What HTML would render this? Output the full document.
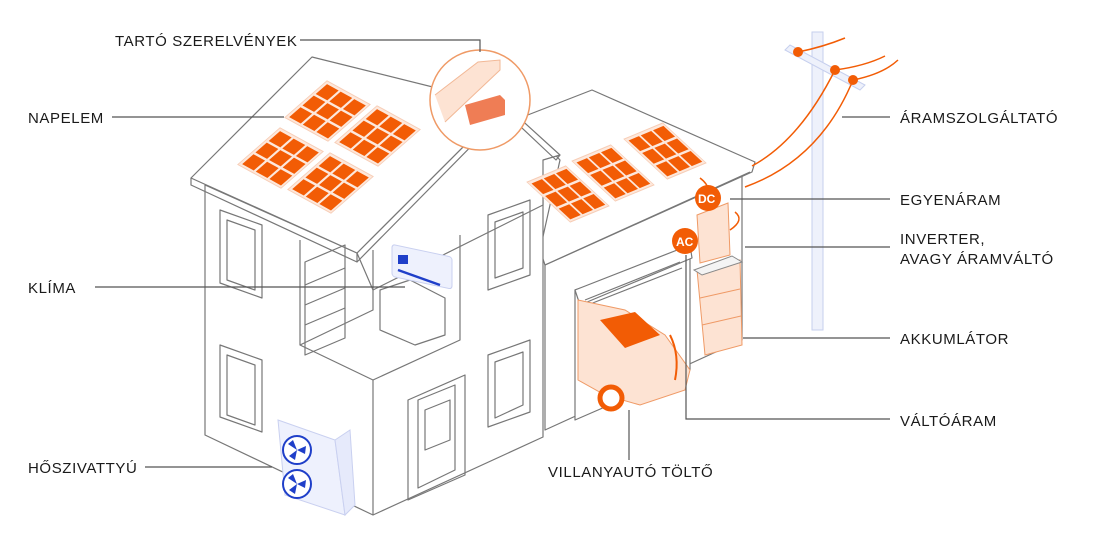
<!DOCTYPE html>
<html><head><meta charset="utf-8"><style>
html,body{margin:0;padding:0;background:#fff}
svg{display:block}
text{font-family:"Liberation Sans",sans-serif;font-size:15px;fill:#1a1a1a;letter-spacing:0.6px}
</style></head><body>
<svg width="1100" height="550" viewBox="0 0 1100 550" xmlns="http://www.w3.org/2000/svg">
<defs>
<g id="panel">
<rect x="-4" y="-4" width="108" height="108" fill="#fde8dc" stroke="#f7cdb6" stroke-width="2"/>
<g fill="#f25c05">
<rect x="2" y="2" width="29" height="29"/><rect x="36" y="2" width="29" height="29"/><rect x="70" y="2" width="29" height="29"/>
<rect x="2" y="36" width="29" height="29"/><rect x="36" y="36" width="29" height="29"/><rect x="70" y="36" width="29" height="29"/>
<rect x="2" y="70" width="29" height="29"/><rect x="36" y="70" width="29" height="29"/><rect x="70" y="70" width="29" height="29"/>
</g></g>
</defs>
<g fill="none" stroke="#777" stroke-width="1.2" stroke-linejoin="round">
<!-- right building -->
<polygon points="545,250 545,430 742,340 742,170" fill="#fff"/>
<polygon points="520,118 592,90 755,162 752,172 545,265 540,250 560,160" fill="#fff"/>
<line x1="545" y1="265" x2="750" y2="172"/>
<!-- garage -->
<polygon points="575,290 575,420 690,370 690,250" fill="#fff"/>
<polygon points="575,290 690,245 692,258 580,305" fill="#fff"/>
<line x1="585" y1="300" x2="680" y2="262"/><line x1="585" y1="306" x2="682" y2="268"/>
<!-- main house -->
<polygon points="205,185 205,435 373,515 543,437 543,200 357,253" fill="#fff"/>
<polygon points="357,253 505,105 560,155 543,160 543,205 373,290" fill="#fff"/>
<polygon points="312,57 505,105 357,253 191,178" fill="#fff"/>
<polyline points="191,178 191,185 357,262 357,253"/>
<polyline points="357,262 505,112 556,160 560,155"/>
<line x1="505" y1="112" x2="505" y2="105"/>
<!-- cutout room -->
<polyline points="300,240 300,345 373,380 373,515"/>
<polyline points="373,380 460,340 460,235"/>
<polyline points="300,345 373,310 373,250"/>
<polygon points="305,262 345,245 345,338 305,355"/>
<line x1="305" y1="285" x2="345" y2="268"/><line x1="305" y1="305" x2="345" y2="288"/><line x1="305" y1="325" x2="345" y2="308"/>
<polygon points="380,290 410,280 445,298 445,335 415,345 380,330"/>
<!-- windows -->
<g>
<polygon points="220,210 262,225 262,298 220,283"/><polygon points="227,220 255,230 255,290 227,280"/>
<polygon points="220,345 262,360 262,432 220,417"/><polygon points="227,355 255,365 255,425 227,415"/>
<polygon points="488,215 530,200 530,275 488,290"/><polygon points="495,222 523,212 523,268 495,278"/>
<polygon points="488,355 530,340 530,412 488,427"/><polygon points="495,362 523,352 523,405 495,418"/>
<polygon points="408,400 465,375 465,475 408,500"/><polygon points="418,400 455,385 455,470 418,488"/>
<polygon points="425,410 450,400 450,440 425,450"/>
</g>
</g>
<!-- panels main roof -->
<use href="#panel" transform="matrix(0.40,0.22,-0.39,0.34,327,83)"/>
<use href="#panel" transform="matrix(0.40,0.22,-0.39,0.34,377,108)"/>
<use href="#panel" transform="matrix(0.40,0.22,-0.39,0.34,280,130)"/>
<use href="#panel" transform="matrix(0.40,0.22,-0.39,0.34,330,155)"/>
<!-- panels right roof -->
<use href="#panel" transform="matrix(0.36,-0.15,0.40,0.37,627,140)"/>
<use href="#panel" transform="matrix(0.36,-0.15,0.40,0.37,575,162)"/>
<use href="#panel" transform="matrix(0.36,-0.15,0.40,0.37,530,183)"/>
<!-- circle detail -->
<circle cx="480" cy="100" r="50" fill="#fff" stroke="#ef9a66" stroke-width="1.5"/>
<path d="M435,95 L478,62 L500,60 L500,70 L445,122" fill="#fde3d3" stroke="#f2b896"/>
<polygon points="465,105 500,95 505,100 505,115 470,125" fill="#ef7d55"/>
<!-- klima -->
<rect x="392" y="245" width="60" height="32" rx="3" fill="#eef1fd" stroke="#c9d0f0" transform="skewY(12) translate(0,-84)"/>
<rect x="398" y="255" width="10" height="9" fill="#1f3fc9"/>
<line x1="398" y1="270" x2="440" y2="285" stroke="#1f3fc9" stroke-width="2.5"/>
<!-- heat pump -->
<polygon points="278,420 335,440 345,515 285,495" fill="#eef1fd" stroke="#c9d0f0"/>
<polygon points="335,440 350,430 355,505 345,515" fill="#e6eafb" stroke="#c9d0f0"/>
<circle cx="297" cy="450" r="14" fill="#fff" stroke="#1f3fc9" stroke-width="2"/>
<circle cx="297" cy="484" r="14" fill="#fff" stroke="#1f3fc9" stroke-width="2"/>
<g fill="#1f3fc9"><path d="M297,450 l-9,-6 l5,-4z M297,450 l9,-4 l-1,8z M297,450 l-2,10 l-6,-4z"/>
<path d="M297,484 l-9,-6 l5,-4z M297,484 l9,-4 l-1,8z M297,484 l-2,10 l-6,-4z"/></g>
<!-- car -->
<polygon points="578,300 625,310 665,335 690,370 685,390 640,405 605,395 578,380" fill="#fde3d3" stroke="#ef9a66"/>
<polygon points="600,320 635,312 660,335 625,348" fill="#f25c05"/>
<circle cx="611" cy="398" r="11" fill="#fff" stroke="#f25c05" stroke-width="5"/>
<path d="M670,335 q10,20 5,45" fill="none" stroke="#f25c05" stroke-width="2"/>
<!-- inverter & battery -->
<polygon points="697,215 728,203 730,255 700,263" fill="#fde3d3" stroke="#ef9a66"/>
<polygon points="697,270 740,260 742,345 705,355" fill="#fde3d3" stroke="#ef9a66"/>
<line x1="700" y1="298" x2="740" y2="289" stroke="#ef9a66"/><line x1="702" y1="325" x2="741" y2="316" stroke="#ef9a66"/>
<polygon points="694,270 732,256 742,262 702,275" fill="#f4f4f4" stroke="#888"/>
<path d="M735,212 q10,8 -5,18" fill="none" stroke="#f25c05" stroke-width="1.5"/>
<path d="M700,178 q8,6 8,12" fill="none" stroke="#f25c05" stroke-width="1.5"/>
<circle cx="708" cy="198" r="13" fill="#f25c05"/><text x="698" y="203" style="fill:#fff;font-size:12px;font-weight:bold;letter-spacing:0">DC</text>
<circle cx="685" cy="241" r="13" fill="#f25c05"/><text x="676" y="246" style="fill:#fff;font-size:12px;font-weight:bold;letter-spacing:0">AC</text>
<!-- pole -->
<rect x="812" y="32" width="11" height="298" fill="#eef1fb" stroke="#c6cfee"/>
<polygon points="785,50 790,45 865,85 860,90" fill="#eef1fb" stroke="#c6cfee"/>
<g fill="none" stroke="#f25c05" stroke-width="1.5">
<path d="M798,52 q25,-5 47,-14"/><path d="M835,70 q30,-4 50,-14"/><path d="M853,80 q30,-6 45,-20"/>
<path d="M835,70 Q800,140 752,166"/><path d="M853,80 Q820,160 745,187"/></g>
<circle cx="798" cy="52" r="5" fill="#f25c05"/><circle cx="835" cy="70" r="5" fill="#f25c05"/><circle cx="853" cy="80" r="5" fill="#f25c05"/>
<!-- leader lines -->
<g stroke="#555" stroke-width="1.2" fill="none">
<polyline points="300,40 480,40 480,52"/>
<line x1="112" y1="117" x2="284" y2="117"/>
<line x1="95" y1="287" x2="405" y2="287"/>
<line x1="145" y1="467" x2="272" y2="467"/>
<line x1="842" y1="117" x2="890" y2="117"/>
<line x1="730" y1="199" x2="890" y2="199"/>
<line x1="745" y1="247" x2="890" y2="247"/>
<line x1="743" y1="338" x2="890" y2="338"/>
<polyline points="686,255 686,419 890,419"/>
<line x1="629" y1="410" x2="629" y2="460"/>
</g>
<!-- labels -->
<text x="115" y="46">TARTÓ SZERELVÉNYEK</text>
<text x="28" y="123">NAPELEM</text>
<text x="28" y="293">KLÍMA</text>
<text x="28" y="473">HŐSZIVATTYÚ</text>
<text x="900" y="123">ÁRAMSZOLGÁLTATÓ</text>
<text x="900" y="205">EGYENÁRAM</text>
<text x="900" y="244">INVERTER,</text>
<text x="900" y="264">AVAGY ÁRAMVÁLTÓ</text>
<text x="900" y="344">AKKUMLÁTOR</text>
<text x="900" y="426">VÁLTÓÁRAM</text>
<text x="548" y="477">VILLANYAUTÓ TÖLTŐ</text>
</svg>
</body></html>
